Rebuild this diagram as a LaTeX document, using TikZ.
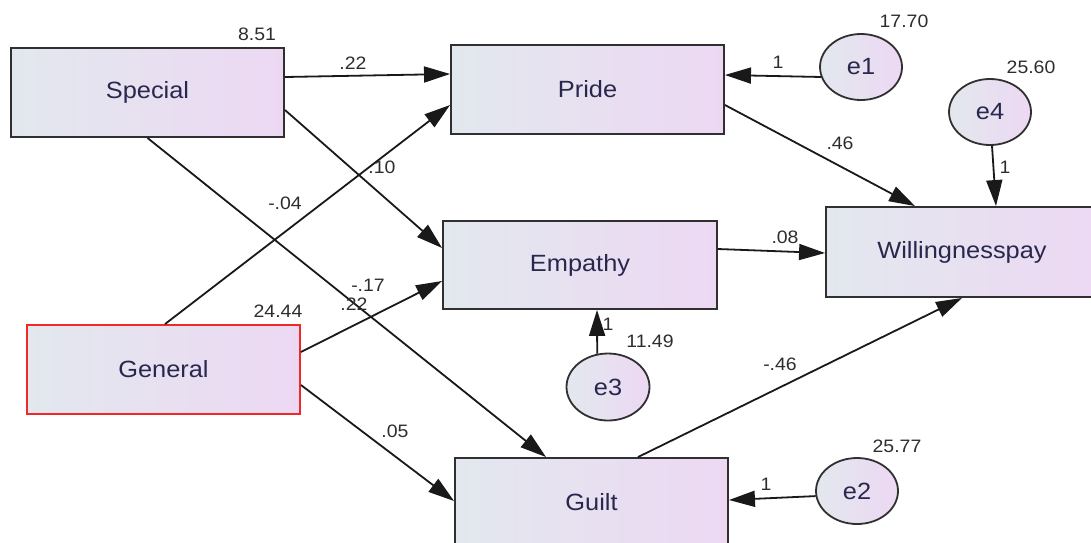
\documentclass[tikz,border=0pt]{standalone}
\usepackage{fontspec}
\setmainfont[FakeStretch=1.08]{Liberation Sans}
\usetikzlibrary{arrows.meta,shapes.geometric,calc}
\definecolor{fillL}{RGB}{226,232,238}
\definecolor{fillR}{RGB}{237,216,243}
\definecolor{txtC}{RGB}{40,40,78}
\definecolor{lblC}{RGB}{45,45,45}
\definecolor{lineC}{RGB}{25,25,25}
\definecolor{redB}{RGB}{240,40,40}
\tikzset{
  varbox/.style={rectangle, draw=lineC!90, line width=1.9pt, left color=fillL, right color=fillR,
    minimum width=273pt, minimum height=89pt, inner sep=0pt, text=txtC,
    font=\fontsize{23.5}{28}\selectfont},
  errnode/.style={ellipse, draw=lineC!90, line width=1.8pt, left color=fillL, right color=fillR,
    minimum width=82pt, minimum height=66pt, inner sep=0pt, text=txtC,
    font=\fontsize{23.5}{28}\selectfont},
  sempath/.style={draw=lineC, line width=1.8pt, -{Triangle[length=26pt,width=16pt]}},
  lbl/.style={text=lblC, font=\fontsize{18}{21}\selectfont, inner sep=0pt},
}
\begin{document}
\begin{tikzpicture}[x=1pt,y=-1pt]
\useasboundingbox (0,0) rectangle (1091,542);
% observed variables
\node[varbox] (special) at (147.5,92.5) {Special};
\node[varbox] (pride) at (587.5,89.5) {Pride};
\node[varbox, minimum width=274pt, minimum height=88pt] (empathy) at (580,265) {Empathy};
\node[varbox, draw=redB] (general) at (163.5,369.5) {General};
\node[varbox, minimum height=88pt] (guilt) at (591.5,502) {Guilt};
\node[varbox, minimum width=272pt, minimum height=90pt] (will) at (962,252) {Willingnesspay};
% error terms
\node[errnode] (e1) at (861,67) {e1};
\node[errnode] (e4) at (990,112) {e4};
\node[errnode, minimum width=83pt, minimum height=67pt] (e3) at (608,387) {e3};
\node[errnode] (e2) at (857,491) {e2};
% paths
\draw[sempath] ([yshift=15.5pt]special.east) -- ([yshift=15.5pt]pride.west);
\draw[sempath] ([yshift=-17.5pt]special.east) -- ([yshift=17pt]empathy.west);
\draw[sempath] (special.south) -- ([xshift=-45.5pt]guilt.north);
\draw[sempath] ([xshift=1.5pt]general.north) -- ([yshift=-15.5pt]pride.west);
\draw[sempath] ([yshift=17.5pt]general.east) -- ([yshift=-16pt]empathy.west);
\draw[sempath] ([yshift=-15.5pt]general.east) -- ([yshift=1pt]guilt.west);
\draw[sempath] ([yshift=-15.5pt]pride.east) -- ([xshift=-47pt]will.north);
\draw[sempath] ([yshift=16pt]empathy.east) -- ([yshift=-1pt]will.west);
\draw[sempath] ([xshift=46.5pt]guilt.north) -- (will.south);
\draw[sempath] (e1.194) -- ([yshift=14.5pt]pride.east);
\draw[sempath] ([xshift=2pt]e4.south) -- ([xshift=34pt]will.north);
\draw[sempath] (e3.108) -- ([xshift=17pt]empathy.south);
\draw[sempath] (e2.187) -- ([yshift=2pt]guilt.east);
% path coefficients
\node[lbl] (l1) at (353,63) {.22};
\node[lbl] (l2) at (382,167) {.10};
\node[lbl] (l3) at (354,304) {.22};
\node[lbl] (l4) at (285,203) {-.04};
\node[lbl] (l5) at (368,285) {-.17};
\node[lbl] (l6) at (395,431) {.05};
\node[lbl] (l7) at (840,143) {.46};
\node[lbl] (l8) at (785,237) {.08};
\node[lbl] (l9) at (780,364) {-.46};
\node[lbl] (o1) at (778,62) {1};
\node[lbl] (o4) at (1005,167) {1};
\node[lbl] (o3) at (608,324) {1};
\node[lbl] (o2) at (766,484) {1};
% variances
\node[lbl] (v1) at (257,34) {8.51};
\node[lbl] (v2) at (904,21) {17.70};
\node[lbl] (v3) at (1031,67) {25.60};
\node[lbl] (v4) at (278,311) {24.44};
\node[lbl] (v5) at (650,341) {11.49};
\node[lbl] (v6) at (897,446) {25.77};
\end{tikzpicture}
\end{document}
